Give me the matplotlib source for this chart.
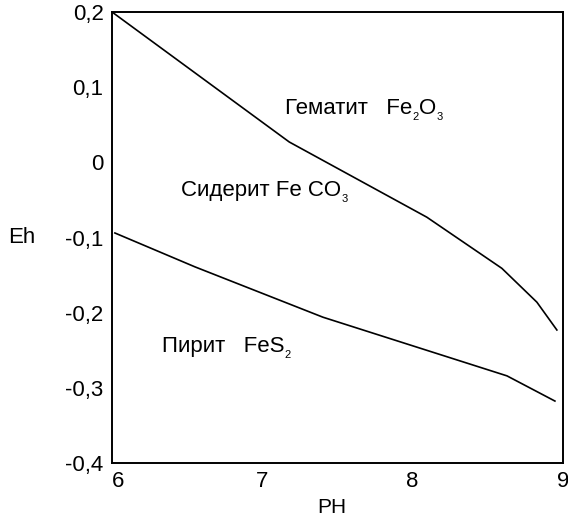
import matplotlib
matplotlib.use("Agg")
import matplotlib.pyplot as plt

plt.rcParams['font.family'] = ['Liberation Sans', 'DejaVu Sans']

# Hematite / siderite boundary
upper_ph = [6.0, 7.18, 8.095, 8.594, 8.827, 8.96]
upper_eh = [0.2, 0.027, -0.073, -0.141, -0.186, -0.223]

# Siderite / pyrite boundary
lower_ph = [6.02, 6.552, 7.404, 8.628, 8.947]
lower_eh = [-0.094, -0.139, -0.206, -0.284, -0.3175]

x_ticks = [6, 7, 8, 9]
x_labels = ["6", "7", "8", "9"]
y_ticks = [0.2, 0.1, 0.0, -0.1, -0.2, -0.3, -0.4]
y_labels = ["0,2", "0,1", "0", "-0,1", "-0,2", "-0,3", "-0,4"]

# region labels: list of (text, is_subscript) pieces
region_parts = [
    [("Гематит   Fe", False), ("2", True), ("O", False), ("3", True)],
    [("Сидерит Fe CO", False), ("3", True)],
    [("Пирит   FeS", False), ("2", True)],
]
region_ph = [7.151, 6.459, 6.333]
region_eh = [0.0643, -0.0448, -0.2519]

fig = plt.figure(figsize=(5.68, 5.18), dpi=100)
ax = fig.add_axes([0.197, 0.106, 0.794, 0.871])

ax.plot(upper_ph, upper_eh, color='black', lw=1.2)
ax.plot(lower_ph, lower_eh, color='black', lw=1.2)

MAIN_FS = 16
SUB_FS = 8
for parts, x, y in zip(region_parts, region_ph, region_eh):
    first = ax.text(x, y, parts[0][0], fontsize=MAIN_FS, ha='left', va='baseline')
    prev = first
    for txt, sub in parts[1:]:
        if sub:
            prev = ax.annotate(txt, xy=(1, 0), xycoords=prev, xytext=(0.3, -2),
                               textcoords='offset points', fontsize=SUB_FS,
                               ha='left', va='bottom')
        else:
            prev = ax.annotate(txt, xy=(1, 0), xycoords=(prev, first), xytext=(0.3, 0),
                               textcoords='offset points', fontsize=MAIN_FS,
                               ha='left', va='bottom')

ax.set_xlim(6, 9)
ax.set_ylim(-0.4, 0.2)
ax.set_xticks(x_ticks)
ax.set_xticklabels(x_labels)
ax.set_yticks(y_ticks)
ax.set_yticklabels(y_labels)
ax.tick_params(length=0, labelsize=16, pad=6)
ax.get_xticklabels()[0].set_ha('left')
for s in ax.spines.values():
    s.set_linewidth(1.4)

ax.set_xlabel("PH", fontsize=15)
ax.set_ylabel("Eh", fontsize=16, rotation=0)
ax.xaxis.set_label_coords(0.488, -0.0976)
ax.yaxis.set_label_coords(-0.2, 0.501)
ax.xaxis.label.set_va('center')
ax.yaxis.label.set_va('center')
ax.yaxis.label.set_ha('center')

fig.savefig("out.png", dpi=100)
